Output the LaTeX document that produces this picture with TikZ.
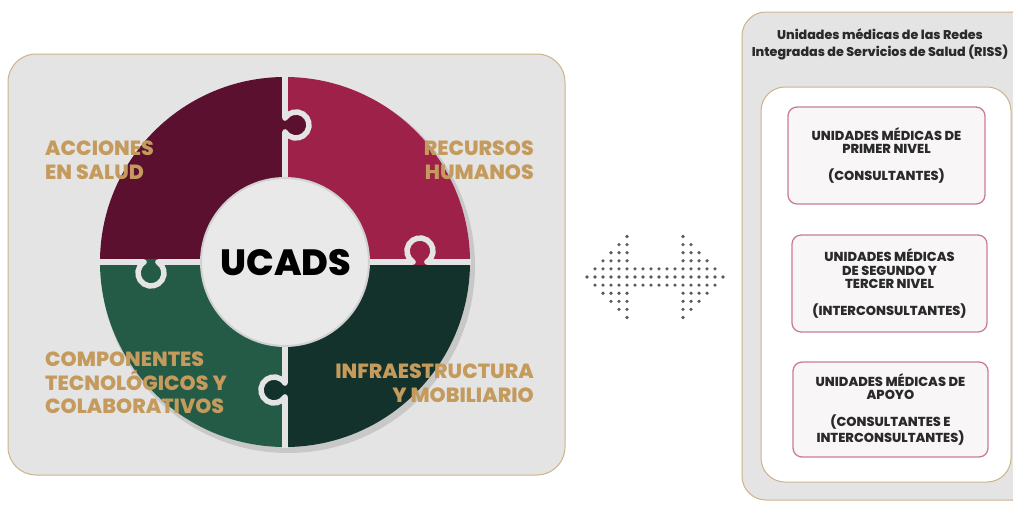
\documentclass[tikz,border=0pt]{standalone}
\usepackage{fontspec}
\setmainfont{Poppins}[BoldFont={Poppins ExtraBold}]
\usetikzlibrary{calc}
\definecolor{vino}{HTML}{5C1030}
\definecolor{guinda}{HTML}{9D2149}
\definecolor{verdeosc}{HTML}{13322B}
\definecolor{verde}{HTML}{235B47}
\definecolor{oro}{HTML}{C49B5C}
\definecolor{marco}{HTML}{CDB28C}
\definecolor{fondo}{HTML}{E4E4E4}
\definecolor{centro}{HTML}{E9E9E9}
\definecolor{rosa}{HTML}{C97D93}
\definecolor{caja}{HTML}{F8F6F7}
\definecolor{tinta}{HTML}{2A2A2A}
\definecolor{punto}{HTML}{5A5A5A}
\tikzset{panel/.style={draw=marco,line width=1pt,fill=fondo,rounded corners=28pt},
junta/.style={draw=fondo,line width=5.5pt,line cap=round},
etiqueta/.style={font=\bfseries\fontsize{20.5}{23.5}\selectfont,text=oro,inner sep=0pt},
unidad/.style={draw=rosa,line width=1.3pt,fill=caja,rounded corners=9pt,align=center,
  text=tinta,font=\bfseries\fontsize{13}{13.5}\selectfont,inner sep=0pt}}

\begin{document}
\begin{tikzpicture}[x=1pt,y=-1pt]
\useasboundingbox (0,0) rectangle (1013,504);
\clip (0,0) rectangle (1013,504);
\coordinate (C) at (285,262);
% left panel with the puzzle ring
\draw[panel] (8,54) rectangle (565,475);
\fill[black,opacity=.12] ($(C)+(3,4)$) circle[radius=187];
\foreach \a/\col in {180/vino,270/guinda,0/verdeosc,90/verde}{
  \fill[\col] ($(C)+(\a:185)$) arc[start angle=\a,end angle=\a+90,radius=185]
    -- ($(C)+(\a+90:84)$) arc[start angle=\a+90,end angle=\a,radius=84] -- cycle;
}
\draw[junta,line cap=butt] ($(C)+(0,-186)$) -- ($(C)+(0,186)$);
\draw[junta,line cap=butt] ($(C)+(-186,0)$) -- ($(C)+(186,0)$);
\foreach \x/\y/\rot/\col in {285/125/0/vino,420/262/90/guinda,285/390/180/verdeosc,151/262/270/verde}{
  \begin{scope}[shift={(\x,\y)},rotate=\rot]
    \fill[\col] (11,0) circle[radius=13];
    \fill[\col] (-3,-7) rectangle (3,7);
    \draw[junta] (0,-6.93) arc[start angle=212.2,end angle=507.8,radius=13];
  \end{scope}
}
\fill[centro,draw=black!18,line width=2pt] (C) circle[radius=84];
\node[font=\bfseries\fontsize{36.5}{36.5}\selectfont] (ucads) at (286,263) {UCADS};
\node[etiqueta,anchor=west,align=left] (acciones) at (45,160) {ACCIONES\\EN SALUD};
\node[etiqueta,anchor=east,align=right] (recursos) at (534,160) {RECURSOS\\HUMANOS};
\node[etiqueta,anchor=west,align=left] (componentes) at (45,383) {COMPONENTES\\TECNOLÓGICOS Y\\COLABORATIVOS};
\node[etiqueta,anchor=east,align=right] (infra) at (534,383) {INFRAESTRUCTURA\\Y MOBILIARIO};
% dotted double arrow
\coordinate (flecha) at (587,236.5);
\foreach \r in {0,...,10}{
  \pgfmathtruncatemacro\k{abs(\r-5)}
  \foreach \c in {0,...,17}{
    \pgfmathtruncatemacro\on{(\c>=\k)&&(\c<=17-\k)&&((\k<2)||(\c<=5)||(\c>=12))}
    \ifnum\on=1 \fill[punto] ($(flecha)+(\c*8,\r*8.1)$) circle[radius=1.8]; \fi
  }
}
% right panel
\draw[panel,rounded corners=24pt] (742,12) rectangle (1045,500);
\node[font=\bfseries\fontsize{12.7}{17}\selectfont,text=tinta,align=center] (riss) at (880,44)
  {Unidades médicas de las Redes\\Integradas de Servicios de Salud (RISS)};
\draw[draw=marco,line width=1pt,fill=white,rounded corners=24pt] (761,87) rectangle (1011,482);
\node[unidad,minimum width=197pt,minimum height=97pt] (primer) at (886.5,155.5)
  {UNIDADES MÉDICAS DE\\PRIMER NIVEL\\[13.5pt](CONSULTANTES)};
\node[unidad,minimum width=195pt,minimum height=97pt] (segundo) at (889.5,283.5)
  {UNIDADES MÉDICAS\\DE SEGUNDO Y\\TERCER NIVEL\\[13.5pt](INTERCONSULTANTES)};
\node[unidad,minimum width=195pt,minimum height=95pt] (apoyo) at (890.5,409.5)
  {UNIDADES MÉDICAS DE\\APOYO\\[13.5pt](CONSULTANTES E\\INTERCONSULTANTES)};
\end{tikzpicture}
\end{document}
